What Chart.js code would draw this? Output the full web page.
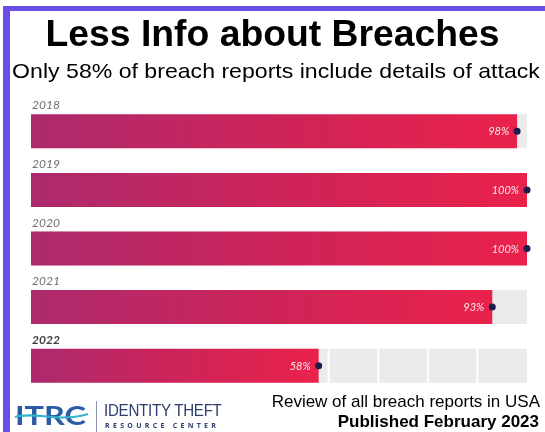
<!DOCTYPE html>
<html>
<head>
<meta charset="utf-8">
<script src="https://cdn.jsdelivr.net/npm/chart.js@4"></script>
<style>
  html, body { margin:0; padding:0; background:#ffffff; }
  body { width:545px; height:432px; position:relative; overflow:hidden; font-family:"Liberation Sans", Arial, sans-serif; }
  #c { position:absolute; left:0; top:0; }
  .bt { position:absolute; left:3px; top:6px; width:542px; height:5px; background:#6b4de6; }
  .bl { position:absolute; left:3px; top:6px; width:7px; height:426px; background:#6b4de6; }
  .t { position:absolute; white-space:nowrap; line-height:1; color:#000; }
  #title { left:0; width:545px; text-align:center; top:16px; font-size:36px; font-weight:bold; transform:scaleX(1.036); transform-origin:272px 0; }
  #sub { left:0; width:552px; text-align:center; top:60px; font-size:21px; transform:scaleX(1.1); transform-origin:276px 0; }
  #f1 { right:5px; top:393px; font-size:17px; }
  #f2 { right:6px; top:413px; font-size:17px; font-weight:bold; }
  #logo1 { left:15px; top:401px; font-family:Lato, sans-serif; font-weight:bold; font-size:27px; color:#2b5ba6; transform:scaleX(1.2); transform-origin:0 0; }
  #sep { position:absolute; left:96px; top:401px; width:1px; height:31px; background:#8a94aa; }
  #logo2 { left:104px; top:402px; font-size:17px; color:#2c3d6e; letter-spacing:-0.3px; transform:scaleX(0.89); transform-origin:0 0; }
  #logo3 { left:105px; top:422px; font-family:"Open Sans", sans-serif; font-weight:bold; font-size:7px; color:#2c3d6e; letter-spacing:3.3px; }
  #sw { position:absolute; left:14px; top:409px; }
</style>
</head>
<body>
<div class="bt"></div>
<div class="bl"></div>
<canvas id="c" width="545" height="432"></canvas>
<div class="t" id="title">Less Info about Breaches</div>
<div class="t" id="sub">Only 58% of breach reports include details of attack</div>
<div class="t" id="f1">Review of all breach reports in USA</div>
<div class="t" id="f2">Published February 2023</div>
<div class="t" id="logo1">ITRC</div>
<svg id="sw" width="76" height="16"><path d="M1 8 C 20 2, 45 14, 74 5" stroke="#2fb3cf" stroke-width="2.2" fill="none"/></svg>
<div id="sep"></div>
<div class="t" id="logo2">IDENTITY THEFT</div>
<div class="t" id="logo3">RESOURCE CENTER</div>
<script>
const years = ['2018', '2019', '2020', '2021', '2022'];
const shares = [98, 100, 100, 93, 58];
const shareLabels = ['98%', '100%', '100%', '93%', '58%'];
const trackValues = [100, 100, 100, 100, 100];
const highlightYear = '2022';

function barGradient(c) {
  const ch = c.chart;
  if (!ch.chartArea || c.type !== 'data') return '#d8234f';
  const xs = ch.scales.x;
  const x0 = xs.getPixelForValue(0);
  const x1 = xs.getPixelForValue(c.raw);
  const g = ch.ctx.createLinearGradient(x0, 0, Math.max(x1, x0 + 1), 0);
  g.addColorStop(0, '#ad2a6d');
  g.addColorStop(0.5, '#cd2459');
  g.addColorStop(1, '#ea224b');
  return g;
}

const trackGrid = {
  id: 'trackGrid',
  afterDatasetDraw(chart, args) {
    if (args.index !== 1) return;
    const ctx = chart.ctx;
    const xs = chart.scales.x;
    const meta = chart.getDatasetMeta(1);
    ctx.save();
    ctx.strokeStyle = '#ffffff';
    ctx.lineWidth = 2;
    meta.data.forEach(bar => {
      const top = bar.y - bar.height / 2;
      const bot = bar.y + bar.height / 2;
      xs.ticks.forEach(t => {
        if (t.value <= xs.min || t.value >= xs.max) return;
        const x = xs.getPixelForValue(t.value);
        ctx.beginPath();
        ctx.moveTo(x, top);
        ctx.lineTo(x, bot);
        ctx.stroke();
      });
    });
    ctx.restore();
  }
};

const decor = {
  id: 'decor',
  afterDatasetsDraw(chart) {
    const ctx = chart.ctx;
    const meta = chart.getDatasetMeta(0);
    ctx.save();
    meta.data.forEach((bar, i) => {
      const top = bar.y - bar.height / 2;
      const yr = chart.data.labels[i];
      ctx.textAlign = 'left';
      ctx.textBaseline = 'alphabetic';
      if (yr === highlightYear) {
        ctx.font = 'italic bold 12px Lato, sans-serif';
        ctx.fillStyle = '#3e3e3e';
      } else {
        ctx.font = 'italic 12px Lato, sans-serif';
        ctx.fillStyle = '#6e6e6e';
      }
      ctx.fillText(yr, 32, top - 5);
      ctx.font = 'italic 11px Lato, sans-serif';
      ctx.fillStyle = '#fbe6ea';
      ctx.textAlign = 'right';
      ctx.textBaseline = 'middle';
      ctx.fillText(shareLabels[i], bar.x - 8, bar.y + 0.5);
      ctx.beginPath();
      ctx.arc(bar.x, bar.y, 3.5, 0, Math.PI * 2);
      ctx.fillStyle = '#1b1d4a';
      ctx.fill();
    });
    ctx.restore();
  }
};

new Chart(document.getElementById('c'), {
  type: 'bar',
  data: {
    labels: years,
    datasets: [
      {
        label: 'Share with attack details',
        data: shares,
        backgroundColor: barGradient,
        borderWidth: 0,
        grouped: false,
        order: 0,
        categoryPercentage: 1,
        barPercentage: 0.58
      },
      {
        label: 'Track',
        data: trackValues,
        backgroundColor: '#ebebeb',
        borderWidth: 0,
        grouped: false,
        order: 1,
        categoryPercentage: 1,
        barPercentage: 0.58
      }
    ]
  },
  options: {
    indexAxis: 'y',
    responsive: false,
    animation: false,
    layout: { padding: { top: 102, bottom: 37, left: 31, right: 18 } },
    plugins: { legend: { display: false }, tooltip: { enabled: false }, title: { display: false } },
    scales: {
      x: { display: false, min: 0, max: 100, ticks: { stepSize: 10 } },
      y: { display: false }
    }
  },
  plugins: [trackGrid, decor]
});
</script>
</body>
</html>
